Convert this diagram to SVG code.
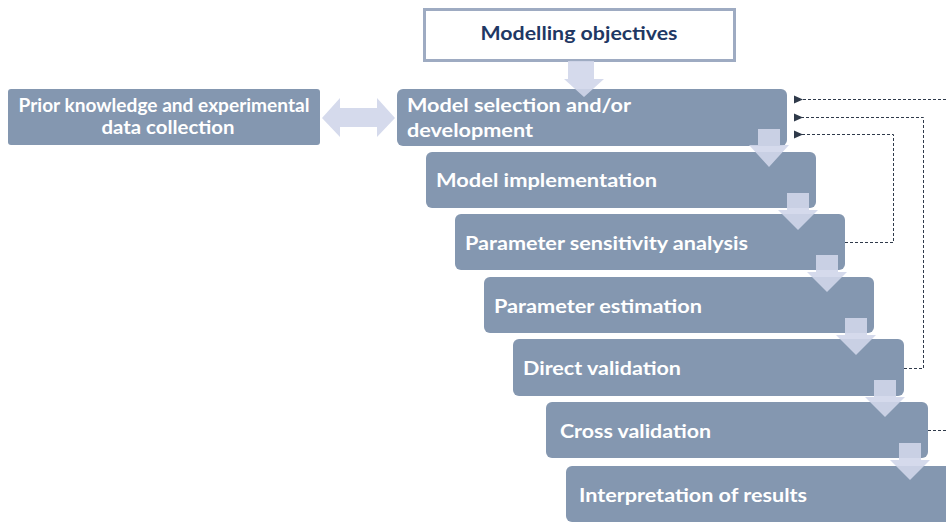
<svg xmlns="http://www.w3.org/2000/svg" width="946" height="522" viewBox="0 0 946 522">
  <style>
    .step { fill: #8497b0; }
    .label { font-family: Lato, "Liberation Sans", sans-serif; font-weight: bold; fill: #ffffff; font-size: 19px; }
    .title { font-family: Lato, "Liberation Sans", sans-serif; font-weight: bold; fill: #1f3864; font-size: 19.5px; }
    .flow { fill: #d0d6ea; fill-opacity: 0.9; }
    .fb { fill: none; stroke: #2f3a4a; stroke-width: 1; stroke-dasharray: 3 2; }
  </style>
  <defs>
    <marker id="head" markerWidth="9" markerHeight="9" refX="1" refY="4.5" orient="auto" markerUnits="userSpaceOnUse">
      <path d="M9,0.5 L0,4.5 L9,8.5 z" fill="#2f3a4a"/>
    </marker>
  </defs>
  <rect width="946" height="522" fill="#ffffff"/>

  <!-- objectives -->
  <g id="objectives">
    <rect x="424.5" y="9.5" width="310" height="51" fill="#ffffff" stroke="#9eabc2" stroke-width="3"/>
    <text class="title" x="579" y="40" text-anchor="middle" textLength="197" lengthAdjust="spacingAndGlyphs">Modelling objectives</text>
  </g>

  <!-- prior knowledge -->
  <g id="prior">
    <rect class="step" x="8" y="89" width="312" height="56" rx="3"/>
    <text class="label" x="164" y="112" text-anchor="middle" font-size="16.5" textLength="291" lengthAdjust="spacingAndGlyphs">Prior knowledge and experimental</text>
    <text class="label" x="168" y="134" text-anchor="middle" font-size="16.5" textLength="133" lengthAdjust="spacingAndGlyphs">data collection</text>
  </g>

  <!-- workflow steps -->
  <g id="selection">
    <rect class="step" x="397" y="89" width="390" height="57" rx="6"/>
    <text class="label" x="407" y="112" textLength="224" lengthAdjust="spacingAndGlyphs">Model selection and/or</text>
    <text class="label" x="407" y="137" textLength="126" lengthAdjust="spacingAndGlyphs">development</text>
  </g>
  <g id="implementation">
    <rect class="step" x="426" y="152" width="390" height="56" rx="6"/>
    <text class="label" x="436" y="187" textLength="221" lengthAdjust="spacingAndGlyphs">Model implementation</text>
  </g>
  <g id="sensitivity">
    <rect class="step" x="455" y="214" width="390" height="56" rx="6"/>
    <text class="label" x="465" y="250" textLength="283" lengthAdjust="spacingAndGlyphs">Parameter sensitivity analysis</text>
  </g>
  <g id="estimation">
    <rect class="step" x="484" y="277" width="390" height="56" rx="6"/>
    <text class="label" x="494" y="313" textLength="208" lengthAdjust="spacingAndGlyphs">Parameter estimation</text>
  </g>
  <g id="direct">
    <rect class="step" x="513" y="339" width="391" height="57" rx="6"/>
    <text class="label" x="523" y="375" textLength="158" lengthAdjust="spacingAndGlyphs">Direct validation</text>
  </g>
  <g id="cross">
    <rect class="step" x="546" y="402" width="382" height="56" rx="6"/>
    <text class="label" x="560" y="438" textLength="151" lengthAdjust="spacingAndGlyphs">Cross validation</text>
  </g>
  <g id="interpretation">
    <rect class="step" x="566" y="466" width="400" height="56" rx="6"/>
    <text class="label" x="579" y="502" textLength="228" lengthAdjust="spacingAndGlyphs">Interpretation of results</text>
  </g>

  <!-- connectors -->
  <g id="connectors">
    <!-- block arrows between steps -->
    <polygon class="flow" points="568,61 594,61 594,79 604,79 584,97 564,79 568,79"/>
    <polygon class="flow" points="758,129 780,129 780,145 789,145 769,167 749,145 758,145"/>
    <polygon class="flow" points="787,193 809,193 809,210 818,210 798,230 778,210 787,210"/>
    <polygon class="flow" points="816,255 838,255 838,272 847,272 827,292 807,272 816,272"/>
    <polygon class="flow" points="845,318 867,318 867,335 876,335 856,355 836,335 845,335"/>
    <polygon class="flow" points="874,380 896,380 896,397 905,397 885,417 865,397 874,397"/>
    <polygon class="flow" points="899,443 921,443 921,460 930,460 910,480 890,460 899,460"/>
    <!-- two-way exchange with prior knowledge -->
    <polygon class="flow" points="322,118 340,98 340,108 377,108 377,98 395,118 377,137 377,127 340,127 340,137"/>
    <!-- feedback loops -->
    <polyline class="fb" points="946,99.5 802,99.5" marker-end="url(#head)"/>
    <polyline class="fb" points="904,368.5 923.5,368.5 923.5,117.5 802,117.5" marker-end="url(#head)"/>
    <polyline class="fb" points="845,242.5 893.5,242.5 893.5,134.5 802,134.5" marker-end="url(#head)"/>
    <polyline class="fb" points="928,430.5 946,430.5"/>
  </g>
</svg>
